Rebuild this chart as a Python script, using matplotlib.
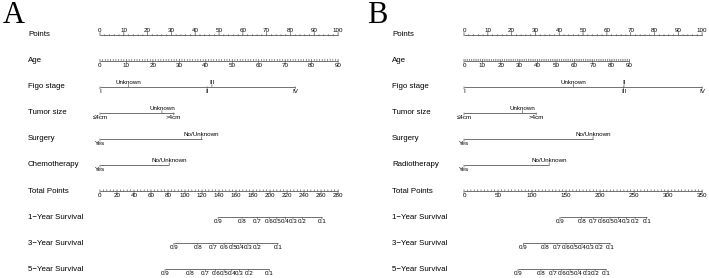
import numpy as np
import matplotlib.pyplot as plt

plt.rcParams['font.family'] = ['Liberation Sans', 'DejaVu Sans']

# ---- data (points scale 0-100) ----
row_names_a = ['Points', 'Age', 'Figo stage', 'Tumor size', 'Surgery', 'Chemotherapy',
               'Total Points', '1\u2212Year Survival', '3\u2212Year Survival', '5\u2212Year Survival']
row_names_b = ['Points', 'Age', 'Figo stage', 'Tumor size', 'Surgery', 'Radiotherapy',
               'Total Points', '1\u2212Year Survival', '3\u2212Year Survival', '5\u2212Year Survival']

age_ticks = [0, 10, 20, 30, 40, 50, 60, 70, 80, 90]
age_max_pts_a = 100
age_max_pts_b = 69.5

figo_lv_a = ['I', 'Unknown', 'II', 'III', 'IV']
figo_pts_a = [0, 12, 45, 47, 82]
figo_lv_b = ['I', 'Unknown', 'III', 'II', 'IV']
figo_pts_b = [0, 46, 67, 67.2, 100]

tumor_lv = ['\u22644cm', 'Unknown', '>4cm']
tumor_pts_a = [0, 26, 31]
tumor_pts_b = [0, 24.5, 30.3]

surg_lv = ['Yes', 'No/Unknown']
surg_pts_a = [0, 42.7]
surg_pts_b = [0, 54.2]

chemo_lv = ['Yes', 'No/Unknown']
chemo_pts_a = [0, 29.1]
radio_lv = ['Yes', 'No/Unknown']
radio_pts_b = [0, 35.8]

total_max_a = 280
total_ticks_a = list(range(0, 281, 20))
total_max_b = 350
total_ticks_b = list(range(0, 351, 50))

surv_probs = [0.9, 0.8, 0.7, 0.6, 0.5, 0.4, 0.3, 0.2, 0.1]
surv1_a = [139, 167, 185, 199, 208, 218, 227, 238, 261]
surv3_a = [87, 115, 133, 146, 156, 165, 174, 185, 209]
surv5_a = [76.5, 106, 124, 136, 146, 155, 164, 175, 199]
surv1_b = [141, 173, 190, 202.5, 214.7, 227, 239, 251.5, 268.5]
surv3_b = [87.2, 119, 137, 150, 162, 173.5, 186, 198.5, 214.5]
surv5_b = [79.4, 113, 131, 143.7, 156, 168, 180.4, 192.6, 208.8]

LINE = '#5a5a5a'
FS_LAB = 5.7
FS_TICK = 4.5
OFF = 3.2  # label offset from line, points


def axis_line(ax, y, x0, x1):
    ax.plot([x0, x1], [y, y], color=LINE, lw=0.6, solid_capstyle='butt')


def tick(ax, x, y, up=True, size=1.6):
    ax.annotate('', (x, y), xytext=(0, size if up else -size), textcoords='offset points',
                arrowprops=dict(arrowstyle='-', color=LINE, lw=0.5, shrinkA=0, shrinkB=0))


def lab(ax, x, y, s, above):
    ax.annotate(s, (x, y), xytext=(0, OFF if above else -OFF), textcoords='offset points',
                ha='center', va='center', fontsize=FS_TICK)


def numeric_scale(ax, y, positions, labels, above, minor=None):
    axis_line(ax, y, positions[0], positions[-1])
    if minor is not None:
        for m in minor:
            tick(ax, m, y, up=not above, size=1.0)
    for p, s in zip(positions, labels):
        tick(ax, p, y, up=above, size=1.6)
        lab(ax, p, y, s, above)


def cat_scale(ax, y, levels, pts):
    axis_line(ax, y, min(pts), max(pts))
    for i, (lv, p) in enumerate(zip(levels, pts)):
        above = i % 2 == 1
        tick(ax, p, y, up=above, size=1.6)
        lab(ax, p, y, lv, above)


def fmt(v):
    return ('%g' % v)


def panel(ax, letter, names, age_max, figo_lv, figo_pts, tumor_pts, surg_pts,
          tx_lv, tx_pts, total_max, total_ticks, surv1, surv3, surv5):
    for r, n in enumerate(names):
        ax.text(-30.2, r, n, ha='left', va='center', fontsize=FS_LAB)
    # Points
    pts_ticks = list(range(0, 101, 10))
    numeric_scale(ax, 0, pts_ticks, [str(t) for t in pts_ticks], True,
                  minor=np.arange(0, 101, 2))
    # Age
    age_pos = [a / age_ticks[-1] * age_max for a in age_ticks]
    numeric_scale(ax, 1, age_pos, [str(a) for a in age_ticks], False,
                  minor=np.linspace(0, age_max, 91))
    cat_scale(ax, 2, figo_lv, figo_pts)
    cat_scale(ax, 3, tumor_lv, tumor_pts)
    cat_scale(ax, 4, surg_lv, surg_pts)
    cat_scale(ax, 5, tx_lv, tx_pts)
    # Total points
    scale = 100 / total_max
    tot_pos = [t * scale for t in total_ticks]
    numeric_scale(ax, 6, tot_pos, [str(t) for t in total_ticks], False,
                  minor=np.arange(0, total_max + 1, total_max / 70) * scale)
    for r, s in zip([7, 8, 9], [surv1, surv3, surv5]):
        numeric_scale(ax, r, [v * scale for v in s], [fmt(p) for p in surv_probs], False)
    ax.set_xlim(-42.0, 106.9) if letter == 'A' else ax.set_xlim(-46.0, 102.9)
    ax.set_ylim(9.33, -1.322)
    ax.axis('off')


fig = plt.figure(figsize=(7.09, 2.78), dpi=100)
ax_a = fig.add_axes([0, 0, 0.5, 1])
ax_b = fig.add_axes([0.5, 0, 0.5, 1])
panel(ax_a, 'A', row_names_a, age_max_pts_a, figo_lv_a, figo_pts_a, tumor_pts_a, surg_pts_a,
      chemo_lv, chemo_pts_a, total_max_a, total_ticks_a, surv1_a, surv3_a, surv5_a)
panel(ax_b, 'B', row_names_b, age_max_pts_b, figo_lv_b, figo_pts_b, tumor_pts_b, surg_pts_b,
      radio_lv, radio_pts_b, total_max_b, total_ticks_b, surv1_b, surv3_b, surv5_b)
fig.text(0.004, 1 - 23 / 278, 'A', fontsize=22, family='Liberation Serif', va='baseline')
fig.text(367 / 709, 1 - 23 / 278, 'B', fontsize=22, family='Liberation Serif', va='baseline')
fig.savefig('out.png', dpi=100)
